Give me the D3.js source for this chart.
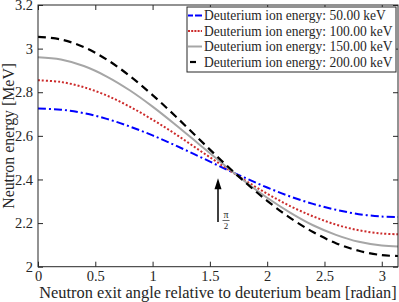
<!DOCTYPE html>
<html>
<head>
<meta charset="utf-8">
<script src="https://cdn.jsdelivr.net/npm/d3@7"></script>
<style>
  html, body { margin: 0; padding: 0; background: #fff; }
  svg { display: block; }
</style>
</head>
<body>
<svg id="chart" width="399" height="302"></svg>
<script>
// ---- data ----
const angles = [0, 0.2, 0.4, 0.6, 0.8, 1.0, 1.2, 1.4, 1.6, 1.8, 2.0, 2.2, 2.4, 2.6, 2.8, 3.0, 3.1416];
const energy50  = [2.725, 2.720, 2.704, 2.678, 2.643, 2.602, 2.556, 2.507, 2.457, 2.409, 2.363, 2.322, 2.288, 2.261, 2.241, 2.230, 2.228];
const energy100 = [2.855, 2.847, 2.823, 2.785, 2.734, 2.674, 2.608, 2.537, 2.467, 2.398, 2.335, 2.278, 2.231, 2.193, 2.167, 2.152, 2.149];
const energy150 = [2.960, 2.950, 2.920, 2.872, 2.809, 2.734, 2.651, 2.564, 2.477, 2.393, 2.316, 2.248, 2.190, 2.146, 2.114, 2.097, 2.093];
const energy200 = [3.054, 3.042, 3.007, 2.950, 2.875, 2.787, 2.690, 2.588, 2.487, 2.391, 2.302, 2.224, 2.159, 2.108, 2.073, 2.053, 2.049];
const seriesNames = ["Deuterium ion energy: 50.00 keV", "Deuterium ion energy: 100.00 keV",
                     "Deuterium ion energy: 150.00 keV", "Deuterium ion energy: 200.00 keV"];
const xTicks = [0, 0.5, 1, 1.5, 2, 2.5, 3];
const yTicks = [2, 2.2, 2.4, 2.6, 2.8, 3, 3.2];
const xDomain = [0, Math.PI];
const yDomain = [2, 3.2];
const arrowX = [Math.PI / 2];
const arrowY = [2.205, 2.406];   // tail, tip
const xLabel = "Neutron exit angle relative to deuterium beam [radian]";
const yLabel = "Neutron energy [MeV]";

// ---- styles ----
const FONT = '"Liberation Serif", "Times New Roman", serif';
const styles = [
  { color: "#0000ff", dash: "8,3,2,3", width: 2 },
  { color: "#cc2b2b", dash: "2,2", width: 2 },
  { color: "#a6a6a6", dash: null, width: 2 },
  { color: "#000000", dash: "8,5", width: 2.2 }
];
const allSeries = [energy50, energy100, energy150, energy200];

const svg = d3.select("#chart");
const L = 38, R = 398, T = 5, B = 266.7;
const x = d3.scaleLinear().domain(xDomain).range([L, R]);
const y = d3.scaleLinear().domain(yDomain).range([B, T]);
const axisColor = "#262626";

function fitWidth(sel, target) {
  const w = sel.node().getComputedTextLength();
  const fs = parseFloat(sel.style("font-size"));
  if (w > 0) sel.style("font-size", (fs * target / w).toFixed(2) + "px");
}

// curves
svg.append("clipPath").attr("id", "clip").append("rect")
  .attr("x", L).attr("y", T).attr("width", R - L).attr("height", B - T);
const line = d3.line().x(d => x(d[0])).y(d => y(d[1])).curve(d3.curveCatmullRom);
const g = svg.append("g").attr("clip-path", "url(#clip)");
allSeries.forEach((vals, i) => {
  const st = styles[i];
  g.append("path")
    .datum(angles.map((a, k) => [a, vals[k]]))
    .attr("d", line)
    .attr("fill", "none")
    .attr("stroke", st.color)
    .attr("stroke-width", st.width)
    .attr("stroke-dasharray", st.dash);
});

// axes (ticks inward)
const xAxisB = d3.axisBottom(x).tickValues(xTicks).tickSizeInner(-5).tickSizeOuter(0).tickPadding(4).tickFormat(d3.format("~g"));
const xAxisT = d3.axisTop(x).tickValues(xTicks).tickSizeInner(-5).tickSizeOuter(0).tickFormat("");
const yAxisL = d3.axisLeft(y).tickValues(yTicks).tickSizeInner(-5).tickSizeOuter(0).tickPadding(5).tickFormat(d3.format("~g"));
const yAxisR = d3.axisRight(y).tickValues(yTicks).tickSizeInner(-5).tickSizeOuter(0).tickFormat("");

function styleAxis(sel) {
  sel.select(".domain").remove();
  sel.selectAll("line").attr("stroke", axisColor).attr("stroke-width", 1);
  sel.selectAll("text").attr("fill", axisColor)
    .style("font-family", FONT).style("font-size", "14.5px");
}
svg.append("g").attr("transform", `translate(0,${B})`).call(xAxisB).call(styleAxis);
svg.append("g").attr("transform", `translate(0,${T})`).call(xAxisT).call(styleAxis);
svg.append("g").attr("transform", `translate(${L},0)`).call(yAxisL).call(styleAxis);
svg.append("g").attr("transform", `translate(${R},0)`).call(yAxisR).call(styleAxis);

svg.append("rect").attr("x", L).attr("y", T).attr("width", R - L).attr("height", B - T)
  .attr("fill", "none").attr("stroke", axisColor).attr("stroke-width", 1);

// axis titles
const xt = svg.append("text").attr("x", (L + R) / 2).attr("y", 298)
  .attr("text-anchor", "middle").style("font-family", FONT).style("font-size", "15px")
  .attr("fill", axisColor).text(xLabel);
fitWidth(xt, 358);
const yt = svg.append("text").attr("transform", `translate(14,${(T + B) / 2}) rotate(-90)`)
  .attr("text-anchor", "middle").style("font-family", FONT).style("font-size", "15px")
  .attr("fill", axisColor).text(yLabel);
fitWidth(yt, 146);

// arrow annotation
const ax = x(arrowX[0]), ay0 = y(arrowY[0]), ay1 = y(arrowY[1]);
svg.append("line").attr("x1", ax).attr("x2", ax).attr("y1", ay0).attr("y2", ay1 + 8)
  .attr("stroke", "#000").attr("stroke-width", 1.5);
svg.append("path")
  .attr("d", `M${ax},${ay1} L${ax - 3.5},${ay1 + 11} L${ax + 3.5},${ay1 + 11} Z`)
  .attr("fill", "#000");
const fx = ax + 8;
svg.append("text").attr("x", fx).attr("y", ay0 - 4).attr("text-anchor", "middle")
  .style("font-family", FONT).style("font-size", "10px").attr("fill", axisColor).text("π");
svg.append("line").attr("x1", fx - 3.5).attr("x2", fx + 3.5).attr("y1", ay0 - 1.5).attr("y2", ay0 - 1.5)
  .attr("stroke", axisColor).attr("stroke-width", 0.7);
svg.append("text").attr("x", fx).attr("y", ay0 + 7.5).attr("text-anchor", "middle")
  .style("font-family", FONT).style("font-size", "9px").attr("fill", axisColor).text("2");

// legend
const lg = svg.append("g");
lg.append("rect").attr("x", 187).attr("y", 7).attr("width", 209).attr("height", 65)
  .attr("fill", "#fff").attr("stroke", axisColor).attr("stroke-width", 1);
const rowY = [15.5, 31, 46.5, 62];
const sampleDash = ["5,2,4,0", "2,1.2", null, "6,20"];
const sampleX = [[188, 202], [188, 202], [188, 202], [190, 197]];
let legendFs = "14px";
seriesNames.forEach((name, i) => {
  lg.append("line").attr("x1", sampleX[i][0]).attr("x2", sampleX[i][1])
    .attr("y1", rowY[i]).attr("y2", rowY[i])
    .attr("stroke", styles[i].color).attr("stroke-width", styles[i].width)
    .attr("stroke-dasharray", sampleDash[i]);
  const t = lg.append("text").attr("x", 204).attr("y", rowY[i] + 4.5)
    .style("font-family", FONT).style("font-size", "14px").attr("fill", axisColor).text(name);
  if (i === 0) { fitWidth(t, 182); legendFs = t.style("font-size"); }
  else t.style("font-size", legendFs);
});
</script>
</body>
</html>
